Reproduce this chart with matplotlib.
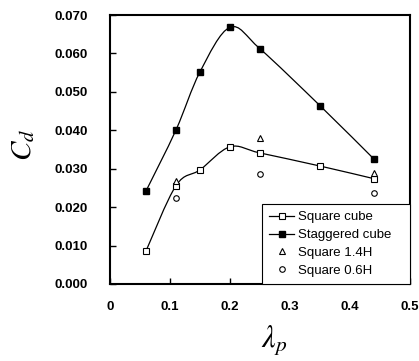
import numpy as np
import matplotlib
matplotlib.use("Agg")
import matplotlib.pyplot as plt
from matplotlib.path import Path
from matplotlib.patches import PathPatch

plt.rcParams["font.family"] = "Liberation Sans"
plt.rcParams["mathtext.fontset"] = "stix"

# data
lam = [0.06, 0.11, 0.15, 0.20, 0.25, 0.35, 0.44]
cd_square = [0.0086, 0.0256, 0.0297, 0.0357, 0.0341, 0.0307, 0.0274]
cd_staggered = [0.0242, 0.0401, 0.0552, 0.0668, 0.0612, 0.0464, 0.0325]
lam_14h = [0.11, 0.25, 0.44]
cd_14h = [0.0268, 0.0380, 0.0290]
lam_06h = [0.11, 0.25, 0.44]
cd_06h = [0.0224, 0.0286, 0.0237]

xticks = [0, 0.1, 0.2, 0.3, 0.4, 0.5]
xticklabels = ["0", "0.1", "0.2", "0.3", "0.4", "0.5"]
yticks = [0.0, 0.01, 0.02, 0.03, 0.04, 0.05, 0.06, 0.07]


def smooth_path(x, y):
    # Excel-like smoothed line: Catmull-Rom segments as cubic Beziers
    p = np.column_stack([x, y])
    verts = [p[0]]
    codes = [Path.MOVETO]
    n = len(p)
    for i in range(n - 1):
        p0 = p[i - 1] if i > 0 else p[i]
        p3 = p[i + 2] if i + 2 < n else p[i + 1]
        c1 = p[i] + (p[i + 1] - p0) / 6
        c2 = p[i + 1] - (p3 - p[i]) / 6
        verts += [c1, c2, p[i + 1]]
        codes += [Path.CURVE4] * 3
    return Path(verts, codes)


fig = plt.figure(figsize=(4.19, 3.61), dpi=100)
ax = fig.add_axes([110 / 419, 77 / 361, 300 / 419, 269 / 361])

for yy in (cd_square, cd_staggered):
    ax.add_patch(PathPatch(smooth_path(lam, yy), fill=False, lw=0.9, color="black"))

ax.plot(lam, cd_square, ls="none", marker="s", ms=4.5, mfc="white", mec="black", mew=0.8)
ax.plot(lam, cd_staggered, ls="none", marker="s", ms=4.5, mfc="black", mec="black")
ax.plot(lam_14h, cd_14h, ls="none", marker="^", ms=4.5, mfc="white", mec="black", mew=0.8)
ax.plot(lam_06h, cd_06h, ls="none", marker="o", ms=4, mfc="white", mec="black", mew=0.8)

# legend proxies (line + marker)
h1, = ax.plot([], [], color="black", lw=0.9, marker="s", ms=4.5, mfc="white", mec="black", mew=0.8)
h2, = ax.plot([], [], color="black", lw=0.9, marker="s", ms=4.5, mfc="black", mec="black")
h3, = ax.plot([], [], ls="none", marker="^", ms=4.5, mfc="white", mec="black", mew=0.8)
h4, = ax.plot([], [], ls="none", marker="o", ms=4, mfc="white", mec="black", mew=0.8)
leg = ax.legend([h1, h2, h3, h4], ["Square cube", "Staggered cube", "Square 1.4H", "Square 0.6H"],
                loc="lower left", bbox_to_anchor=(152 / 300, 0, 148 / 300, 82 / 269),
                mode="expand", borderaxespad=0, fancybox=False,
                fontsize=9.5, handlelength=1.9, handletextpad=0.3, labelspacing=0.42,
                borderpad=0.55, framealpha=1)
leg.get_frame().set_edgecolor("black")
leg.get_frame().set_linewidth(0.8)

ax.set_xlim(0, 0.5)
ax.set_ylim(0, 0.07)
ax.set_xticks(xticks)
ax.set_xticklabels(xticklabels)
ax.set_yticks(yticks)
ax.set_yticklabels(["%.3f" % v for v in yticks])
ax.tick_params(direction="in", length=4, width=1, labelsize=9.5)
ax.tick_params(axis="y", pad=16)
ax.tick_params(axis="x", pad=12)
for lbl in ax.get_xticklabels() + ax.get_yticklabels():
    lbl.set_fontweight("bold")
for s in ax.spines.values():
    s.set_linewidth(1.5)

fig.text(23 / 419, 1 - 145 / 361, r"$C_d$", fontsize=21, rotation=90, ha="center", va="center")
fig.text(274 / 419, 1 - 341 / 361, r"$\lambda_p$", fontsize=22, ha="center", va="center")

fig.savefig("out.png", dpi=100)
